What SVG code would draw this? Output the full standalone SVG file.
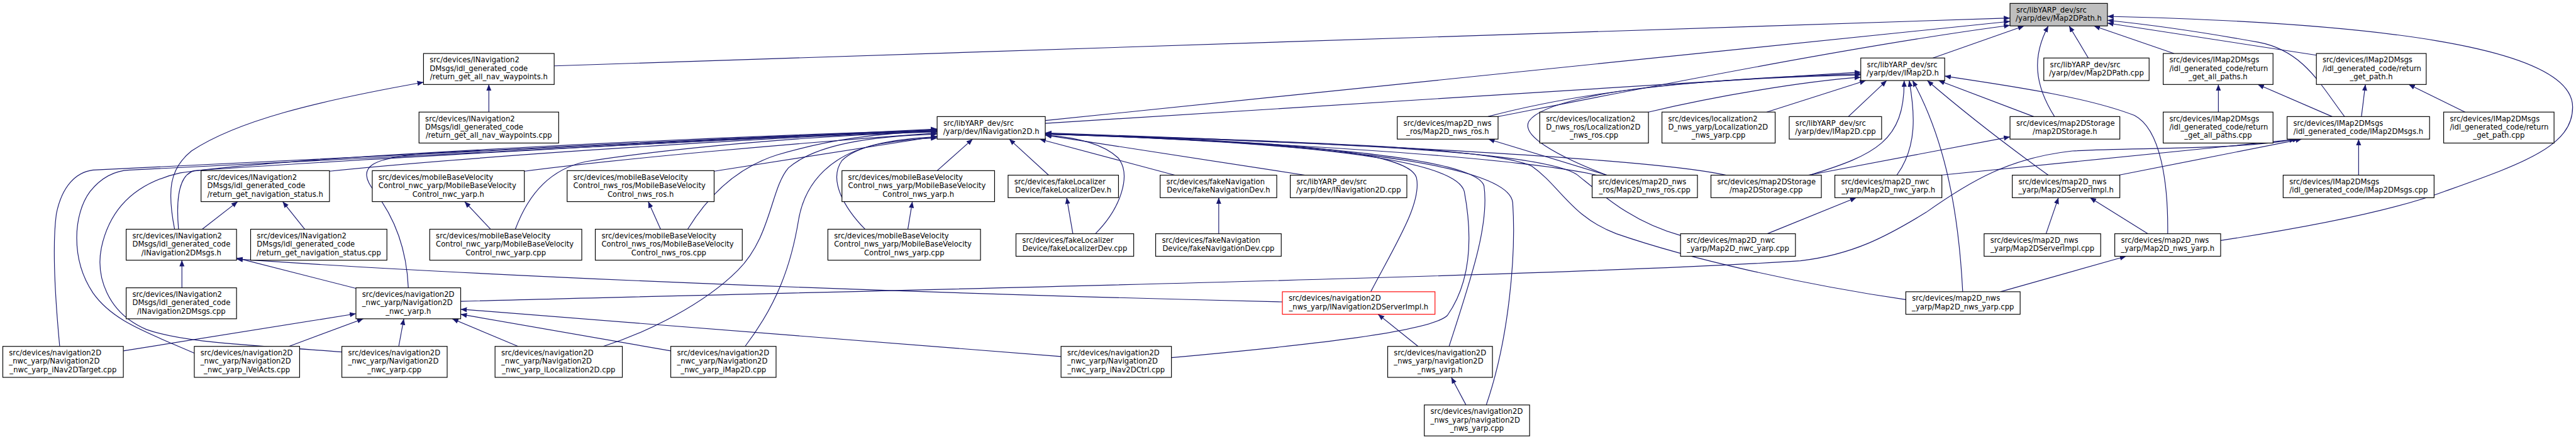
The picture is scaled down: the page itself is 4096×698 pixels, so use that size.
<svg xmlns="http://www.w3.org/2000/svg" width="4096" height="698" viewBox="0 0 4096 698">
<style>
.n rect{fill:#fff;stroke:#000;stroke-width:1.3}
.n text{font-family:"DejaVu Sans",sans-serif;font-size:13px;fill:#000}
.n .m{text-anchor:middle}
.e path{fill:none;stroke:#191970;stroke-width:1.3;marker-end:url(#a)}
</style>
<defs><marker id="a" markerUnits="userSpaceOnUse" markerWidth="12" markerHeight="10" refX="11" refY="4.5" orient="auto"><path d="M0,0L11,4.5L0,9z" fill="#191970"/></marker></defs>
<rect width="4096" height="698" fill="#fff"/>
<g transform="scale(0.8955)">
<g id="edges" class="e">
<path d="M984,117L3569,32"/>
<path d="M1856,214L3569,38"/>
<path d="M2660,207C2900,160 3300,80 3569,45"/>
<path d="M3432,103L3594,46"/>
<path d="M3648,207C3612,150 3608,100 3637,46"/>
<path d="M3708,103L3674,46"/>
<path d="M3860,95L3718,46"/>
<path d="M3943,427C4120,400 4260,370 4340,340C4480,290 4568,260 4568,190C4568,80 4200,40 3742,29"/>
<path d="M4163,207C4120,150 4090,90 4010,75C3900,55 3800,42 3742,36"/>
<path d="M4113,98L3742,41"/>
<path d="M1856,219C2400,185 2900,150 3304,128"/>
<path d="M2642,207C2800,165 3000,140 3304,131"/>
<path d="M2853,311C2760,275 2700,240 2715,215C2735,185 2850,160 3000,148C3100,140 3200,135 3304,133"/>
<path d="M2927,199C3050,170 3200,145 3304,137"/>
<path d="M3137,199L3313,143"/>
<path d="M3282,207L3350,143"/>
<path d="M3213,311C3330,275 3382,250 3381,143"/>
<path d="M3368,311C3405,260 3400,200 3390,143"/>
<path d="M3485,518C3478,380 3455,250 3396,143"/>
<path d="M3637,311C3580,270 3500,210 3422,143"/>
<path d="M3611,207L3442,143"/>
<path d="M3849,415C3850,330 3838,230 3790,205C3700,170 3550,150 3453,135"/>
<path d="M4141,207L4009,150"/>
<path d="M4193,207L4200,150"/>
<path d="M4188,311L4188,247"/>
<path d="M3939,199L3939,150"/>
<path d="M4377,199L4277,150"/>
<path d="M3446,311L4082,247"/>
<path d="M3762,311L4087,247"/>
<path d="M818,535C1500,517 2800,490 3197,463C3290,452 3350,420 3420,377C3500,320 3570,280 3680,268C3800,262 3980,266 4076,247"/>
<path d="M3633,415L3655,351"/>
<path d="M3814,415L3711,351"/>
<path d="M3552,518L3775,455"/>
<path d="M3138,415L3296,351"/>
<path d="M3211,311L3569,243"/>
<path d="M2853,311L2643,247"/>
<path d="M2317,311L1856,240"/>
<path d="M2835,311C2700,280 2300,255 1856,237"/>
<path d="M3065,311C2950,285 2500,258 1856,236"/>
<path d="M2434,518C2480,430 2525,360 2515,315C2500,270 2300,250 1856,238"/>
<path d="M2080,635C2300,615 2540,590 2570,560C2612,500 2615,420 2600,340C2585,280 2300,252 1856,238"/>
<path d="M2573,615C2610,500 2645,400 2635,330C2620,280 2300,252 1856,238"/>
<path d="M2639,719C2680,600 2692,450 2686,360C2680,285 2300,252 1856,237"/>
<path d="M3384,532C3200,505 3000,460 2870,415C2790,385 2770,330 2720,295C2650,262 2300,250 1856,238"/>
<path d="M2984,418C2900,395 2850,350 2800,310C2740,270 2400,254 1856,238"/>
<path d="M1945,415C1990,370 2010,310 1985,280C1955,252 1900,243 1856,240"/>
<path d="M2086,311L1846,247"/>
<path d="M1862,311L1792,247"/>
<path d="M1664,303L1727,247"/>
<path d="M106,615C98,530 92,440 100,380C110,330 135,306 165,302L1664,229"/>
<path d="M345,627C260,590 200,570 165,520C125,460 130,380 160,340C180,315 205,303 230,302L1664,230"/>
<path d="M607,625C450,612 330,610 260,585C190,555 170,490 180,440C195,370 240,325 320,307C500,280 1200,245 1664,231"/>
<path d="M317,407C312,350 318,310 345,303C600,285 1300,245 1664,232"/>
<path d="M310,407C297,340 300,300 340,268C420,215 560,180 752,146"/>
<path d="M585,304C800,282 1300,246 1664,233"/>
<path d="M725,511C722,440 700,385 665,340C630,295 660,280 760,272C1100,255 1400,240 1664,232"/>
<path d="M931,304C1100,282 1400,255 1664,236"/>
<path d="M915,407C940,340 980,300 1040,287C1200,262 1450,240 1664,234"/>
<path d="M1268,304L1664,242"/>
<path d="M1221,407C1250,360 1300,300 1380,275C1470,248 1560,236 1664,233"/>
<path d="M1536,407C1500,370 1470,320 1495,285C1525,255 1600,246 1664,243"/>
<path d="M1071,615C1150,590 1250,540 1310,480C1370,420 1368,335 1400,298C1450,255 1550,242 1664,238"/>
<path d="M1323,615C1380,540 1405,470 1418,390C1430,320 1480,272 1560,256C1600,249 1630,246 1664,245"/>
<path d="M219,623L632,557"/>
<path d="M513,615L645,566"/>
<path d="M708,615L717,566"/>
<path d="M920,615L803,566"/>
<path d="M1884,633L818,549"/>
<path d="M1191,623L818,558"/>
<path d="M632,512L420,458"/>
<path d="M2277,536C1600,520 900,493 420,460"/>
<path d="M323,511L323,462"/>
<path d="M541,407L502,358"/>
<path d="M359,407L422,358"/>
<path d="M871,407L825,358"/>
<path d="M1173,407L1151,358"/>
<path d="M1612,407L1620,358"/>
<path d="M1905,415L1894,351"/>
<path d="M2164,415L2164,351"/>
<path d="M868,199L868,150"/>
<path d="M2518,615L2447,558"/>
<path d="M2603,719L2577,670"/>
</g>
<g id="n_map2dpath_h" class="n"><rect x="3569" y="6" width="173" height="40" style="fill:#bfbfbf"/><text x="3580" y="22">src/libYARP_dev/src</text><text class="m" x="3655.5" y="37">/yarp/dev/Map2DPath.h</text></g>
<g id="n_wpts_h" class="n"><rect x="752" y="95" width="232" height="55"/><text x="763" y="111">src/devices/INavigation2</text><text x="763" y="126">DMsgs/idl_generated_code</text><text class="m" x="868" y="141">/return_get_all_nav_waypoints.h</text></g>
<g id="n_imap2d_h" class="n"><rect x="3304" y="103" width="149" height="40"/><text x="3315" y="119">src/libYARP_dev/src</text><text class="m" x="3378.5" y="134">/yarp/dev/IMap2D.h</text></g>
<g id="n_map2dpath_cpp" class="n"><rect x="3629" y="103" width="187" height="40"/><text x="3640" y="119">src/libYARP_dev/src</text><text class="m" x="3722.5" y="134">/yarp/dev/Map2DPath.cpp</text></g>
<g id="n_allpaths_h" class="n"><rect x="3841" y="95" width="195" height="55"/><text x="3852" y="111">src/devices/IMap2DMsgs</text><text x="3852" y="126">/idl_generated_code/return</text><text class="m" x="3938.5" y="141">_get_all_paths.h</text></g>
<g id="n_getpath_h" class="n"><rect x="4113" y="95" width="195" height="55"/><text x="4124" y="111">src/devices/IMap2DMsgs</text><text x="4124" y="126">/idl_generated_code/return</text><text class="m" x="4210.5" y="141">_get_path.h</text></g>
<g id="n_wpts_cpp" class="n"><rect x="744" y="199" width="248" height="55"/><text x="755" y="215">src/devices/INavigation2</text><text x="755" y="230">DMsgs/idl_generated_code</text><text class="m" x="868" y="245">/return_get_all_nav_waypoints.cpp</text></g>
<g id="n_inav2d_h" class="n"><rect x="1664" y="207" width="192" height="40"/><text x="1675" y="223">src/libYARP_dev/src</text><text class="m" x="1760" y="238">/yarp/dev/INavigation2D.h</text></g>
<g id="n_map2d_nws_ros_h" class="n"><rect x="2481" y="207" width="179" height="40"/><text x="2492" y="223">src/devices/map2D_nws</text><text class="m" x="2570.5" y="238">_ros/Map2D_nws_ros.h</text></g>
<g id="n_loc_ros_cpp" class="n"><rect x="2734" y="199" width="193" height="55"/><text x="2745" y="215">src/devices/localization2</text><text x="2745" y="230">D_nws_ros/Localization2D</text><text class="m" x="2830.5" y="245">_nws_ros.cpp</text></g>
<g id="n_loc_yarp_cpp" class="n"><rect x="2951" y="199" width="201" height="55"/><text x="2962" y="215">src/devices/localization2</text><text x="2962" y="230">D_nws_yarp/Localization2D</text><text class="m" x="3051.5" y="245">_nws_yarp.cpp</text></g>
<g id="n_imap2d_cpp" class="n"><rect x="3177" y="207" width="164" height="40"/><text x="3188" y="223">src/libYARP_dev/src</text><text class="m" x="3259" y="238">/yarp/dev/IMap2D.cpp</text></g>
<g id="n_storage_h" class="n"><rect x="3569" y="207" width="195" height="40"/><text x="3580" y="223">src/devices/map2DStorage</text><text class="m" x="3666.5" y="238">/map2DStorage.h</text></g>
<g id="n_allpaths_cpp" class="n"><rect x="3841" y="199" width="195" height="55"/><text x="3852" y="215">src/devices/IMap2DMsgs</text><text x="3852" y="230">/idl_generated_code/return</text><text class="m" x="3938.5" y="245">_get_all_paths.cpp</text></g>
<g id="n_imap2dmsgs_h" class="n"><rect x="4061" y="207" width="253" height="40"/><text x="4072" y="223">src/devices/IMap2DMsgs</text><text class="m" x="4187.5" y="238">/idl_generated_code/IMap2DMsgs.h</text></g>
<g id="n_getpath_cpp" class="n"><rect x="4339" y="199" width="196" height="55"/><text x="4350" y="215">src/devices/IMap2DMsgs</text><text x="4350" y="230">/idl_generated_code/return</text><text class="m" x="4437" y="245">_get_path.cpp</text></g>
<g id="n_navstatus_h" class="n"><rect x="357" y="303" width="228" height="55"/><text x="368" y="319">src/devices/INavigation2</text><text x="368" y="334">DMsgs/idl_generated_code</text><text class="m" x="471" y="349">/return_get_navigation_status.h</text></g>
<g id="n_mbvc_nwc_h" class="n"><rect x="661" y="303" width="270" height="55"/><text x="672" y="319">src/devices/mobileBaseVelocity</text><text x="672" y="334">Control_nwc_yarp/MobileBaseVelocity</text><text class="m" x="796" y="349">Control_nwc_yarp.h</text></g>
<g id="n_mbvc_ros_h" class="n"><rect x="1007" y="303" width="261" height="55"/><text x="1018" y="319">src/devices/mobileBaseVelocity</text><text x="1018" y="334">Control_nws_ros/MobileBaseVelocity</text><text class="m" x="1137.5" y="349">Control_nws_ros.h</text></g>
<g id="n_mbvc_yarp_h" class="n"><rect x="1495" y="303" width="271" height="55"/><text x="1506" y="319">src/devices/mobileBaseVelocity</text><text x="1506" y="334">Control_nws_yarp/MobileBaseVelocity</text><text class="m" x="1630.5" y="349">Control_nws_yarp.h</text></g>
<g id="n_fakeloc_h" class="n"><rect x="1790" y="311" width="196" height="40"/><text x="1801" y="327">src/devices/fakeLocalizer</text><text class="m" x="1888" y="342">Device/fakeLocalizerDev.h</text></g>
<g id="n_fakenav_h" class="n"><rect x="2060" y="311" width="207" height="40"/><text x="2071" y="327">src/devices/fakeNavigation</text><text class="m" x="2163.5" y="342">Device/fakeNavigationDev.h</text></g>
<g id="n_inav2d_cpp" class="n"><rect x="2291" y="311" width="207" height="40"/><text x="2302" y="327">src/libYARP_dev/src</text><text class="m" x="2394.5" y="342">/yarp/dev/INavigation2D.cpp</text></g>
<g id="n_map2d_ros_cpp" class="n"><rect x="2827" y="311" width="187" height="40"/><text x="2838" y="327">src/devices/map2D_nws</text><text class="m" x="2920.5" y="342">_ros/Map2D_nws_ros.cpp</text></g>
<g id="n_storage_cpp" class="n"><rect x="3038" y="311" width="196" height="40"/><text x="3049" y="327">src/devices/map2DStorage</text><text class="m" x="3136" y="342">/map2DStorage.cpp</text></g>
<g id="n_map2d_nwc_h" class="n"><rect x="3258" y="311" width="190" height="40"/><text x="3269" y="327">src/devices/map2D_nwc</text><text class="m" x="3353" y="342">_yarp/Map2D_nwc_yarp.h</text></g>
<g id="n_serverimpl_h" class="n"><rect x="3573" y="311" width="191" height="40"/><text x="3584" y="327">src/devices/map2D_nws</text><text class="m" x="3668.5" y="342">_yarp/Map2DServerImpl.h</text></g>
<g id="n_imap2dmsgs_cpp" class="n"><rect x="4054" y="311" width="268" height="40"/><text x="4065" y="327">src/devices/IMap2DMsgs</text><text class="m" x="4188" y="342">/idl_generated_code/IMap2DMsgs.cpp</text></g>
<g id="n_inav2dmsgs_h" class="n"><rect x="224" y="407" width="196" height="55"/><text x="235" y="423">src/devices/INavigation2</text><text x="235" y="438">DMsgs/idl_generated_code</text><text class="m" x="322" y="453">/INavigation2DMsgs.h</text></g>
<g id="n_navstatus_cpp" class="n"><rect x="445" y="407" width="242" height="55"/><text x="456" y="423">src/devices/INavigation2</text><text x="456" y="438">DMsgs/idl_generated_code</text><text class="m" x="566" y="453">/return_get_navigation_status.cpp</text></g>
<g id="n_mbvc_nwc_cpp" class="n"><rect x="763" y="407" width="270" height="55"/><text x="774" y="423">src/devices/mobileBaseVelocity</text><text x="774" y="438">Control_nwc_yarp/MobileBaseVelocity</text><text class="m" x="898" y="453">Control_nwc_yarp.cpp</text></g>
<g id="n_mbvc_ros_cpp" class="n"><rect x="1057" y="407" width="261" height="55"/><text x="1068" y="423">src/devices/mobileBaseVelocity</text><text x="1068" y="438">Control_nws_ros/MobileBaseVelocity</text><text class="m" x="1187.5" y="453">Control_nws_ros.cpp</text></g>
<g id="n_mbvc_yarp_cpp" class="n"><rect x="1470" y="407" width="271" height="55"/><text x="1481" y="423">src/devices/mobileBaseVelocity</text><text x="1481" y="438">Control_nws_yarp/MobileBaseVelocity</text><text class="m" x="1605.5" y="453">Control_nws_yarp.cpp</text></g>
<g id="n_fakeloc_cpp" class="n"><rect x="1804" y="415" width="209" height="40"/><text x="1815" y="431">src/devices/fakeLocalizer</text><text class="m" x="1908.5" y="446">Device/fakeLocalizerDev.cpp</text></g>
<g id="n_fakenav_cpp" class="n"><rect x="2052" y="415" width="223" height="40"/><text x="2063" y="431">src/devices/fakeNavigation</text><text class="m" x="2163.5" y="446">Device/fakeNavigationDev.cpp</text></g>
<g id="n_map2d_nwc_cpp" class="n"><rect x="2984" y="415" width="204" height="40"/><text x="2995" y="431">src/devices/map2D_nwc</text><text class="m" x="3086" y="446">_yarp/Map2D_nwc_yarp.cpp</text></g>
<g id="n_serverimpl_cpp" class="n"><rect x="3523" y="415" width="207" height="40"/><text x="3534" y="431">src/devices/map2D_nws</text><text class="m" x="3626.5" y="446">_yarp/Map2DServerImpl.cpp</text></g>
<g id="n_map2d_nws_yarp_h" class="n"><rect x="3755" y="415" width="188" height="40"/><text x="3766" y="431">src/devices/map2D_nws</text><text class="m" x="3849" y="446">_yarp/Map2D_nws_yarp.h</text></g>
<g id="n_inav2dmsgs_cpp" class="n"><rect x="224" y="511" width="196" height="55"/><text x="235" y="527">src/devices/INavigation2</text><text x="235" y="542">DMsgs/idl_generated_code</text><text class="m" x="322" y="557">/INavigation2DMsgs.cpp</text></g>
<g id="n_nav_nwc_h" class="n"><rect x="632" y="511" width="186" height="55"/><text x="643" y="527">src/devices/navigation2D</text><text x="643" y="542">_nwc_yarp/Navigation2D</text><text class="m" x="725" y="557">_nwc_yarp.h</text></g>
<g id="n_navserver_h" class="n"><rect x="2277" y="518" width="271" height="40" style="stroke:#ff0000"/><text x="2288" y="534">src/devices/navigation2D</text><text class="m" x="2412.5" y="549">_nws_yarp/INavigation2DServerImpl.h</text></g>
<g id="n_map2d_nws_yarp_cpp" class="n"><rect x="3384" y="518" width="203" height="40"/><text x="3395" y="534">src/devices/map2D_nws</text><text class="m" x="3485.5" y="549">_yarp/Map2D_nws_yarp.cpp</text></g>
<g id="n_target_cpp" class="n"><rect x="5" y="615" width="214" height="55"/><text x="16" y="631">src/devices/navigation2D</text><text x="16" y="646">_nwc_yarp/Navigation2D</text><text class="m" x="112" y="661">_nwc_yarp_iNav2DTarget.cpp</text></g>
<g id="n_velacts_cpp" class="n"><rect x="345" y="615" width="187" height="55"/><text x="356" y="631">src/devices/navigation2D</text><text x="356" y="646">_nwc_yarp/Navigation2D</text><text class="m" x="438.5" y="661">_nwc_yarp_iVelActs.cpp</text></g>
<g id="n_nwc_cpp" class="n"><rect x="607" y="615" width="187" height="55"/><text x="618" y="631">src/devices/navigation2D</text><text x="618" y="646">_nwc_yarp/Navigation2D</text><text class="m" x="700.5" y="661">_nwc_yarp.cpp</text></g>
<g id="n_iloc_cpp" class="n"><rect x="879" y="615" width="226" height="55"/><text x="890" y="631">src/devices/navigation2D</text><text x="890" y="646">_nwc_yarp/Navigation2D</text><text class="m" x="992" y="661">_nwc_yarp_iLocalization2D.cpp</text></g>
<g id="n_imap_cpp" class="n"><rect x="1191" y="615" width="187" height="55"/><text x="1202" y="631">src/devices/navigation2D</text><text x="1202" y="646">_nwc_yarp/Navigation2D</text><text class="m" x="1284.5" y="661">_nwc_yarp_iMap2D.cpp</text></g>
<g id="n_ctrl_cpp" class="n"><rect x="1884" y="615" width="196" height="55"/><text x="1895" y="631">src/devices/navigation2D</text><text x="1895" y="646">_nwc_yarp/Navigation2D</text><text class="m" x="1982" y="661">_nwc_yarp_iNav2DCtrl.cpp</text></g>
<g id="n_nws_h" class="n"><rect x="2464" y="615" width="186" height="55"/><text x="2475" y="631">src/devices/navigation2D</text><text x="2475" y="646">_nws_yarp/navigation2D</text><text class="m" x="2557" y="661">_nws_yarp.h</text></g>
<g id="n_nws_cpp" class="n"><rect x="2529" y="719" width="187" height="55"/><text x="2540" y="735">src/devices/navigation2D</text><text x="2540" y="750">_nws_yarp/navigation2D</text><text class="m" x="2622.5" y="765">_nws_yarp.cpp</text></g>
</g>
</svg>
